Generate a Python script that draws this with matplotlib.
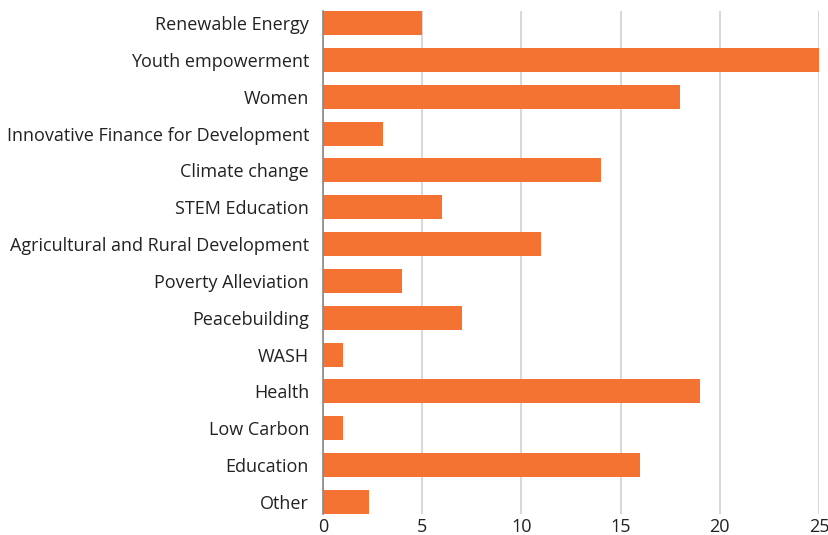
import matplotlib
matplotlib.use('Agg')
from matplotlib import pyplot as plt

categories = ['Renewable Energy', 'Youth empowerment', 'Women',
              'Innovative Finance for Development', 'Climate change',
              'STEM Education', 'Agricultural and Rural Development',
              'Poverty Alleviation', 'Peacebuilding', 'WASH', 'Health',
              'Low Carbon', 'Education', 'Other']
values = [5, 25, 18, 3, 14, 6, 11, 4, 7, 1, 19, 1, 16, 2.3]
x_ticks = [0, 5, 10, 15, 20, 25]

plt.rcParams['font.family'] = ['Open Sans', 'DejaVu Sans']

fig = plt.figure(figsize=(8.29, 5.35), dpi=100)
ax = fig.add_axes([323 / 829, 1 - 514 / 535, 496 / 829, 503 / 535])

bar_h = 0.652
pos = list(range(len(categories)))
ax.barh(pos, values, height=bar_h, color='#F47332', zorder=3)

ax.set_ylim(len(categories) - 1 + bar_h / 2, -bar_h / 2)
ax.set_xlim(0, 25)
ax.set_yticks(pos)
ax.set_yticklabels(categories)
ax.set_xticks(x_ticks)

ax.grid(axis='x', color='#d9d9d9', lw=1.5, zorder=0)
for s in ['top', 'right', 'bottom']:
  ax.spines[s].set_visible(False)
ax.spines['left'].set_color('#888888')
ax.spines['left'].set_linewidth(1.2)
ax.spines['left'].set_zorder(4)
ax.tick_params(axis='both', length=0, labelsize=13, colors='#222222')
ax.tick_params(axis='y', pad=10)
ax.tick_params(axis='x', pad=3)

plt.savefig('out.png', dpi=100)
